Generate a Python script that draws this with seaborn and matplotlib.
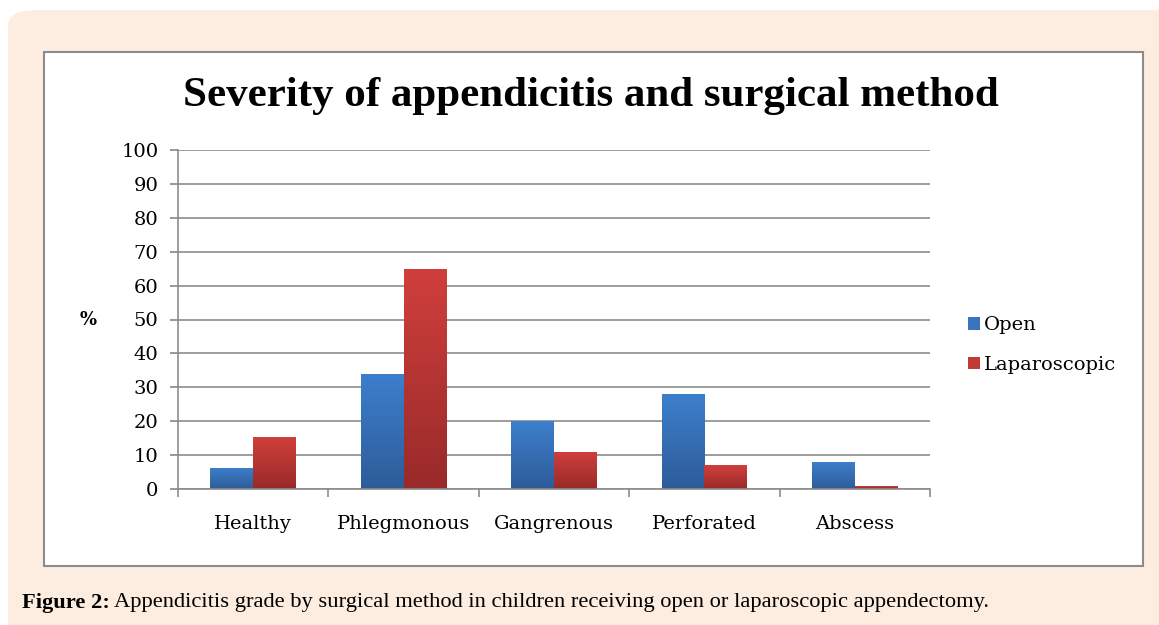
import numpy as np
import pandas as pd
import matplotlib
matplotlib.use('Agg')
import matplotlib.pyplot as plt
import seaborn as sns
from matplotlib.patches import FancyBboxPatch, Rectangle
from matplotlib.colors import LinearSegmentedColormap

# values (percent)
categories = ['Healthy', 'Phlegmonous', 'Gangrenous', 'Perforated', 'Abscess']
open_pct = [6.2, 34, 20, 28, 8]
lap_pct = [15.3, 64.8, 11, 7, 1]
methods = ['Open', 'Laparoscopic']
yticks = list(range(0, 101, 10))

df = pd.DataFrame({
    'grade': categories * 2,
    'method': [methods[0]] * len(categories) + [methods[1]] * len(categories),
    'pct': open_pct + lap_pct,
})

sns.set_theme(style='white')
plt.rcParams['font.family'] = ['DejaVu Serif']
plt.rcParams['text.color'] = 'black'
plt.rcParams['xtick.color'] = 'black'
plt.rcParams['ytick.color'] = 'black'

W, H = 1159, 625
fig = plt.figure(figsize=(W / 100, H / 100), dpi=100)
fig.patch.set_facecolor('white')

# peach page background and white chart frame
fig.patches.append(FancyBboxPatch((8 / W, -0.2), 1.2, 1.2 - 10 / H, boxstyle='round,pad=0,rounding_size=0.025',
                                  transform=fig.transFigure, facecolor='#fdede0', edgecolor='none', zorder=-3))
fig.patches.append(Rectangle((44 / W, 1 - 566 / H), (1143 - 44) / W, (566 - 52) / H,
                             transform=fig.transFigure, facecolor='white', edgecolor='#8c8c8c', lw=1.5, zorder=-2))

ax = fig.add_axes([178 / W, 1 - 489 / H, (930 - 178) / W, (489 - 150) / H])
ax.set_facecolor('none')

sns.barplot(data=df, x='grade', y='pct', hue='method', palette=['#3a73c0', '#c03a38'],
            width=0.57, saturation=1, linewidth=0, ax=ax, zorder=3)

# vertical gradient on each bar, like the office-style chart
grads = {
    '#3a73c0': LinearSegmentedColormap.from_list('b', ['#2d5c98', '#3d7fcd']),
    '#c03a38': LinearSegmentedColormap.from_list('r', ['#982a29', '#d03f3c']),
}
grad = np.linspace(0, 1, 256).reshape(-1, 1)
for p in list(ax.patches):
    h = p.get_height()
    if h <= 0:
        continue
    fc = matplotlib.colors.to_hex(p.get_facecolor())
    cmap = grads['#3a73c0'] if fc == '#3a73c0' else grads['#c03a38']
    x0, w = p.get_x(), p.get_width()
    im = ax.imshow(grad, cmap=cmap, aspect='auto', origin='lower',
                   extent=(x0, x0 + w, 0, h), zorder=4)
    im.set_clip_path(p)

ax.set_ylim(0, 100)
ax.set_xlim(-0.5, len(categories) - 0.5)
ax.set_yticks(yticks)
ax.yaxis.grid(True, color='#8c8c8c', lw=1.2)
ax.set_axisbelow(True)
for s in ['top', 'right']:
    ax.spines[s].set_visible(False)
for s in ['left', 'bottom']:
    ax.spines[s].set_color('#8c8c8c')
    ax.spines[s].set_linewidth(1.2)
    ax.spines[s].set_zorder(5)

ax.tick_params(axis='y', which='major', left=True, length=6, color='#8c8c8c', labelsize=14, pad=8)
ax.tick_params(axis='x', which='major', bottom=False, labelsize=14, pad=13)
ax.set_xticks(np.arange(-0.5, len(categories)), minor=True)
ax.tick_params(axis='x', which='minor', bottom=True, length=6, color='#8c8c8c', width=1.2)
ax.set_xlabel('')
ax.set_ylabel('')

fig.text(88 / W, 1 - 320 / H, '%', fontsize=13, fontweight='bold', ha='center', va='center')
fig.text(591 / W, 1 - 96 / H, 'Severity of appendicitis and surgical method', fontsize=31,
         fontweight='bold', family='Liberation Serif', ha='center', va='center')

ax.legend(loc='center left', bbox_to_anchor=(968 / W, 1 - 345 / H), bbox_transform=fig.transFigure,
          frameon=False, fontsize=14, handlelength=0.6, handleheight=0.6, handletextpad=0.2,
          labelspacing=1.1, borderpad=0, borderaxespad=0)

t = fig.text(22 / W, 1 - 603 / H, 'Figure 2:', fontsize=16.2, fontweight='bold', va='center', ha='left',
             family='Liberation Serif')
fig.canvas.draw()
bb = t.get_window_extent()
fig.text(bb.x1 / W + 4 / W, 1 - 603 / H,
         'Appendicitis grade by surgical method in children receiving open or laparoscopic appendectomy.',
         fontsize=16.2, va='center', ha='left', family='Liberation Serif')

fig.savefig('out.png', dpi=100)
